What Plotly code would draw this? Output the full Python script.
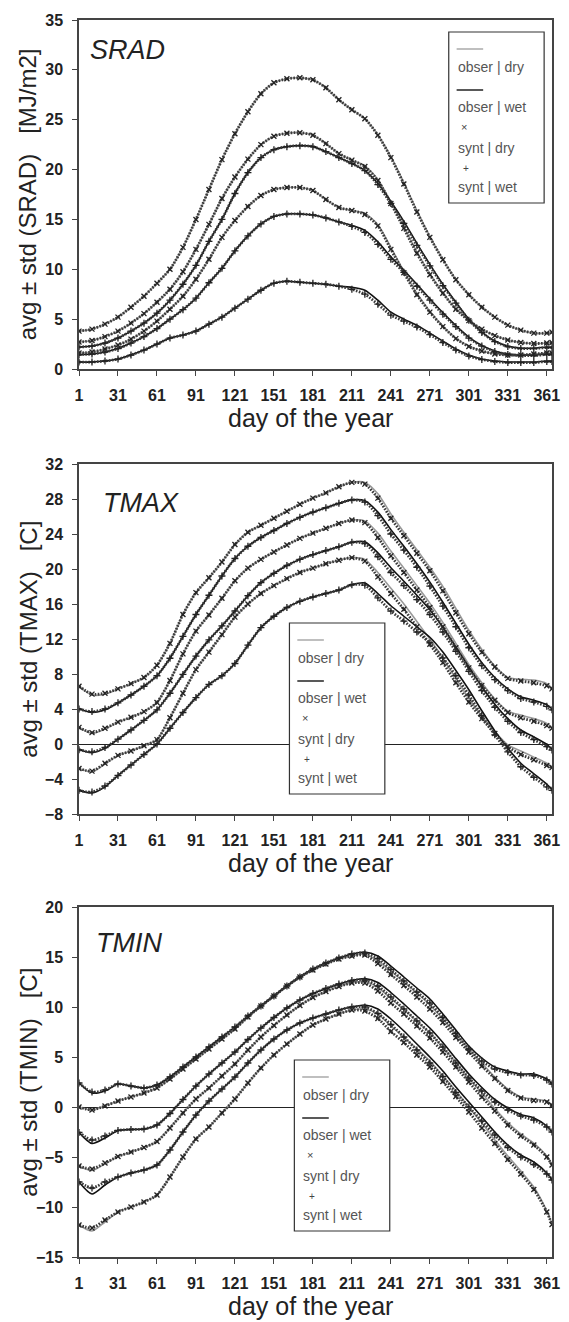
import plotly.graph_objects as go
import numpy as np

# ---------------- data (every 10 days) ----------------
days = [1, 11, 21, 31, 41, 51, 61, 71, 81, 91, 101, 111, 121, 131, 141, 151, 161, 171, 181,
        191, 201, 211, 221, 231, 241, 251, 261, 271, 281, 291, 301, 311, 321, 331, 341, 351, 361, 365]
x_ticks = [1, 31, 61, 91, 121, 151, 181, 211, 241, 271, 301, 331, 361]

# SRAD [MJ/m2]
srad_dry_avg_obs = [2.7, 2.85, 3.25, 3.8, 4.6, 5.55, 6.7, 8.0, 9.75, 12.0, 14.5, 17.1, 19.25, 21.05, 22.5, 23.35, 23.65, 23.7, 23.45, 22.6,
                    21.6, 20.95, 20.35, 19.0, 16.75, 14.25, 11.75, 9.55, 7.65, 6.05, 4.9, 4.0, 3.35, 2.9, 2.65, 2.55, 2.6, 2.65]
srad_dry_std_obs = [1.1, 1.15, 1.25, 1.4, 1.6, 1.75, 1.9, 2.0, 2.45, 3.0, 3.5, 3.9, 4.35, 4.75, 5.1, 5.35, 5.45, 5.5, 5.55, 5.6,
                    5.4, 5.05, 4.75, 4.5, 4.55, 4.45, 4.15, 3.75, 3.35, 2.95, 2.6, 2.2, 1.85, 1.5, 1.25, 1.05, 1.0, 1.05]
srad_wet_avg_obs = [1.45, 1.5, 1.7, 2.05, 2.6, 3.25, 4.05, 5.0, 5.95, 7.1, 8.65, 10.1, 11.85, 13.35, 14.55, 15.3, 15.55, 15.55, 15.45, 15.15,
                    14.75, 14.4, 13.9, 12.75, 11.25, 9.9, 8.5, 7.05, 5.65, 4.35, 3.2, 2.35, 1.8, 1.5, 1.4, 1.4, 1.5, 1.5]
srad_wet_std_obs = [0.75, 0.8, 0.9, 1.05, 1.2, 1.35, 1.55, 1.9, 2.55, 3.3, 4.15, 4.9, 5.75, 6.35, 6.65, 6.7, 6.75, 6.85, 6.85, 6.65,
                    6.45, 6.2, 6.0, 5.85, 5.55, 4.9, 4.1, 3.45, 2.85, 2.35, 1.8, 1.35, 1.0, 0.8, 0.7, 0.7, 0.7, 0.7]
srad_dry_avg_synt = [2.7, 2.85, 3.25, 3.8, 4.6, 5.55, 6.7, 8.0, 9.75, 12.0, 14.5, 17.1, 19.25, 21.05, 22.5, 23.35, 23.65, 23.7, 23.45, 22.6,
                     21.6, 20.95, 20.3, 18.9, 16.6, 14.1, 11.6, 9.45, 7.6, 6.0, 4.85, 4.0, 3.35, 2.9, 2.65, 2.55, 2.6, 2.65]
srad_dry_std_synt = [1.1, 1.15, 1.25, 1.4, 1.6, 1.75, 1.9, 2.0, 2.45, 3.0, 3.5, 3.9, 4.35, 4.75, 5.1, 5.35, 5.45, 5.5, 5.55, 5.6,
                     5.4, 5.05, 4.8, 4.55, 4.6, 4.45, 4.15, 3.75, 3.35, 2.95, 2.6, 2.2, 1.85, 1.5, 1.25, 1.05, 1.0, 1.05]
srad_wet_avg_synt = [1.45, 1.5, 1.7, 2.05, 2.6, 3.25, 4.05, 5.0, 5.95, 7.1, 8.65, 10.1, 11.85, 13.35, 14.55, 15.3, 15.55, 15.55, 15.45, 15.15,
                     14.75, 14.3, 13.7, 12.5, 11.0, 9.7, 8.3, 6.9, 5.5, 4.25, 3.1, 2.3, 1.75, 1.45, 1.35, 1.35, 1.45, 1.45]
srad_wet_std_synt = [0.75, 0.8, 0.9, 1.05, 1.2, 1.35, 1.55, 1.9, 2.55, 3.3, 4.15, 4.9, 5.75, 6.35, 6.65, 6.7, 6.75, 6.85, 6.85, 6.65,
                     6.45, 6.3, 6.2, 6.0, 5.6, 4.9, 4.1, 3.45, 2.85, 2.35, 1.8, 1.35, 1.0, 0.8, 0.7, 0.7, 0.7, 0.7]

# TMAX [C]
tmax_dry_avg_obs = [1.9, 1.2, 1.7, 2.5, 3.05, 3.7, 4.75, 7.25, 10.3, 12.9, 14.75, 16.65, 18.65, 20.1, 21.1, 21.95, 22.75, 23.5, 24.1, 24.65,
                    25.2, 25.6, 25.5, 24.1, 22.05, 20.1, 18.1, 16.1, 13.9, 11.5, 9.1, 7.0, 5.15, 3.75, 3.3, 2.9, 2.35, 1.9]
tmax_dry_std_obs = [4.7, 4.4, 4.0, 3.8, 3.85, 3.9, 4.25, 4.25, 4.5, 4.4, 4.25, 4.15, 4.15, 4.1, 3.9, 3.85, 3.85, 3.9, 4.0, 4.05,
                    4.2, 4.3, 4.4, 4.5, 4.25, 4.1, 4.1, 4.1, 4.1, 4.0, 3.9, 3.8, 3.75, 3.85, 4.1, 4.4, 4.55, 4.5]
tmax_wet_avg_obs = [-0.65, -1.0, -0.5, 0.55, 1.6, 2.7, 3.9, 5.8, 7.95, 10.05, 11.9, 13.5, 15.2, 16.95, 18.45, 19.5, 20.4, 21.1, 21.65, 22.1,
                    22.55, 23.05, 23.1, 21.85, 20.15, 18.6, 17.0, 15.35, 13.35, 11.1, 8.8, 6.55, 4.55, 2.9, 1.6, 0.8, -0.05, -0.6]
tmax_wet_std_obs = [4.65, 4.6, 4.4, 4.15, 4.0, 3.9, 3.9, 4.0, 4.35, 4.75, 5.1, 5.7, 6.0, 5.65, 5.15, 4.9, 4.8, 4.8, 4.85, 4.9,
                    4.95, 4.85, 4.7, 4.65, 4.35, 4.0, 3.6, 3.15, 2.85, 2.7, 2.6, 2.75, 3.05, 3.4, 3.8, 4.2, 4.55, 4.6]
tmax_dry_avg_synt = [1.9, 1.3, 1.8, 2.5, 3.05, 3.7, 4.75, 7.25, 10.3, 12.9, 14.75, 16.65, 18.65, 20.1, 21.1, 21.95, 22.75, 23.5, 24.1, 24.65,
                     25.2, 25.6, 25.3, 23.6, 21.5, 19.6, 17.6, 15.6, 13.4, 11.0, 8.7, 6.7, 5.0, 3.6, 3.0, 2.6, 2.1, 1.8]
tmax_dry_std_synt = [4.7, 4.4, 4.0, 3.8, 3.85, 3.9, 4.25, 4.25, 4.5, 4.4, 4.25, 4.15, 4.15, 4.1, 3.9, 3.85, 3.85, 3.9, 4.0, 4.05,
                     4.2, 4.3, 4.4, 4.5, 4.3, 4.2, 4.2, 4.2, 4.1, 4.0, 3.9, 3.8, 3.8, 3.9, 4.2, 4.4, 4.55, 4.5]
tmax_wet_avg_synt = [-0.65, -0.9, -0.4, 0.55, 1.6, 2.7, 3.9, 5.8, 7.95, 10.05, 11.9, 13.5, 15.2, 16.95, 18.45, 19.5, 20.4, 21.1, 21.65, 22.1,
                     22.55, 23.05, 22.9, 21.4, 19.6, 18.1, 16.5, 14.8, 12.8, 10.6, 8.3, 6.1, 4.2, 2.6, 1.3, 0.5, -0.3, -0.7]
tmax_wet_std_synt = [4.65, 4.6, 4.4, 4.15, 4.0, 3.9, 3.9, 4.0, 4.35, 4.75, 5.1, 5.7, 6.0, 5.65, 5.15, 4.9, 4.8, 4.8, 4.85, 4.9,
                     4.95, 4.85, 4.75, 4.7, 4.4, 4.05, 3.7, 3.25, 2.95, 2.8, 2.7, 2.85, 3.15, 3.5, 3.9, 4.3, 4.6, 4.6]

# TMIN [C]
tmin_wet_avg_obs = [-2.55, -3.65, -3.1, -2.35, -2.25, -2.2, -1.8, -0.65, 0.75, 2.1, 3.3, 4.4, 5.5, 6.75, 7.9, 8.95, 9.9, 10.7, 11.35, 11.85,
                    12.3, 12.65, 12.85, 12.45, 11.45, 10.3, 9.1, 7.9, 6.45, 4.85, 3.3, 1.95, 0.75, -0.1, -0.75, -1.1, -1.9, -2.5]
tmin_wet_std_obs = [4.95, 5.05, 4.7, 4.65, 4.35, 4.1, 4.0, 3.65, 3.25, 2.9, 2.7, 2.6, 2.5, 2.35, 2.2, 2.15, 2.2, 2.3, 2.45, 2.55,
                    2.6, 2.65, 2.65, 2.65, 2.65, 2.7, 2.8, 2.9, 2.85, 2.85, 2.8, 2.95, 3.25, 3.7, 4.05, 4.4, 4.7, 4.8]
tmin_dry_avg_obs = [-5.9, -6.35, -5.7, -4.95, -4.5, -4.05, -3.45, -2.1, -0.6, 0.8, 1.9, 3.1, 4.3, 5.7, 7.0, 8.15, 9.2, 10.15, 10.95, 11.55,
                    12.05, 12.4, 12.55, 11.95, 10.85, 9.75, 8.6, 7.4, 5.95, 4.45, 2.9, 1.4, -0.15, -1.55, -2.7, -3.6, -4.9, -5.75]
tmin_dry_std_obs = [5.9, 6.05, 5.8, 5.55, 5.5, 5.45, 5.35, 4.9, 4.4, 4.0, 3.9, 3.7, 3.5, 3.3, 3.1, 2.95, 2.9, 2.85, 2.75, 2.75,
                    2.75, 2.7, 2.75, 2.65, 2.75, 2.75, 2.8, 2.8, 2.85, 2.85, 2.9, 3.0, 3.15, 3.35, 3.7, 4.4, 5.5, 5.95]
tmin_wet_avg_synt = [-2.55, -3.3, -2.9, -2.35, -2.25, -2.2, -1.8, -0.65, 0.75, 2.1, 3.3, 4.4, 5.5, 6.75, 7.9, 8.95, 9.9, 10.7, 11.35, 11.85,
                     12.3, 12.65, 12.7, 12.1, 11.0, 9.8, 8.6, 7.4, 6.0, 4.4, 2.9, 1.6, 0.5, -0.3, -0.9, -1.3, -2.0, -2.5]
tmin_wet_std_synt = [4.95, 4.8, 4.6, 4.65, 4.35, 4.1, 4.0, 3.65, 3.25, 2.9, 2.7, 2.6, 2.5, 2.35, 2.2, 2.15, 2.2, 2.3, 2.45, 2.55,
                     2.6, 2.65, 2.7, 2.75, 2.75, 2.8, 2.9, 3.0, 2.95, 2.95, 2.9, 3.0, 3.3, 3.75, 4.1, 4.45, 4.7, 4.8]
tmin_dry_avg_synt = [-5.9, -6.2, -5.6, -4.95, -4.5, -4.05, -3.45, -2.1, -0.6, 0.8, 1.9, 3.1, 4.3, 5.7, 7.0, 8.15, 9.2, 10.15, 10.95, 11.55,
                     12.05, 12.4, 12.4, 11.6, 10.4, 9.3, 8.1, 6.9, 5.5, 4.0, 2.5, 1.0, -0.4, -1.8, -2.9, -3.8, -5.0, -5.8]
tmin_dry_std_synt = [5.9, 5.9, 5.7, 5.55, 5.5, 5.45, 5.35, 4.9, 4.4, 4.0, 3.9, 3.7, 3.5, 3.3, 3.1, 2.95, 2.9, 2.85, 2.75, 2.75,
                     2.75, 2.7, 2.8, 2.75, 2.85, 2.85, 2.9, 2.9, 2.95, 2.95, 3.0, 3.1, 3.25, 3.45, 3.8, 4.45, 5.5, 5.95]

panels = [
    dict(name="SRAD", unit="[MJ/m2]", yr=[0, 35], dt=5, zero=False,
         dry_obs=(srad_dry_avg_obs, srad_dry_std_obs), wet_obs=(srad_wet_avg_obs, srad_wet_std_obs),
         dry_syn=(srad_dry_avg_synt, srad_dry_std_synt), wet_syn=(srad_wet_avg_synt, srad_wet_std_synt)),
    dict(name="TMAX", unit="[C]", yr=[-8, 32], dt=4, zero=True,
         dry_obs=(tmax_dry_avg_obs, tmax_dry_std_obs), wet_obs=(tmax_wet_avg_obs, tmax_wet_std_obs),
         dry_syn=(tmax_dry_avg_synt, tmax_dry_std_synt), wet_syn=(tmax_wet_avg_synt, tmax_wet_std_synt)),
    dict(name="TMIN", unit="[C]", yr=[-15, 20], dt=5, zero=True,
         dry_obs=(tmin_dry_avg_obs, tmin_dry_std_obs), wet_obs=(tmin_wet_avg_obs, tmin_wet_std_obs),
         dry_syn=(tmin_dry_avg_synt, tmin_dry_std_synt), wet_syn=(tmin_wet_avg_synt, tmin_wet_std_synt)),
]

# ---------------- geometry (pixels) ----------------
W, H = 569, 1322
L, R, T, B = 79, 9, 20, 65
PW, PH = W - L - R, H - T - B
panel_px = [(20, 369), (464, 814), (907, 1257)]          # top, bottom of each plot area
legend_px = [(455, 32), (293, 623), (298, 1060)]          # top-left of each legend box
title_px = [(88, 50), (101, 503), (94, 943)]


def px(x):
    return (x - L) / PW


def py(y):
    return (H - B - y) / PH


fig = go.Figure()
shapes, annotations = [], []
FONT = "Liberation Sans, Arial, sans-serif"

for i, p in enumerate(panels):
    xa = "x" if i == 0 else f"x{i+1}"
    ya = "y" if i == 0 else f"y{i+1}"
    for key, color in (("dry_obs", "#9a9a9a"), ("wet_obs", "#111111")):
        avg, std = np.array(p[key][0]), np.array(p[key][1])
        for yv in (avg - std, avg, avg + std):
            fig.add_trace(go.Scatter(x=days, y=yv, mode="lines", xaxis=xa, yaxis=ya, showlegend=False,
                                     line=dict(color=color, width=1.6, shape="spline", smoothing=0.7),
                                     hoverinfo="skip"))
    for key, sym in (("dry_syn", "x-thin"), ("wet_syn", "cross-thin")):
        avg, std = np.array(p[key][0]), np.array(p[key][1])
        for yv in (avg - std, avg, avg + std):
            fig.add_trace(go.Scatter(x=days, y=yv, mode="lines+markers", xaxis=xa, yaxis=ya, showlegend=False,
                                     line=dict(color="#3a3a3a", width=2.8, dash="1.6px,1.4px",
                                               shape="spline", smoothing=0.7),
                                     marker=dict(symbol=sym, size=5, color="#222",
                                                 line=dict(width=1.3, color="#222")),
                                     hoverinfo="skip"))

    top, bot = panel_px[i]
    axis_common = dict(showline=True, mirror=True, linecolor="#444", linewidth=1.5, ticks="outside",
                       ticklen=5, tickwidth=1.2, tickcolor="#444", showgrid=False,
                       tickfont=dict(family=FONT, size=16, color="#222", weight="bold"))
    fig.update_layout(**{
        ("xaxis" if i == 0 else f"xaxis{i+1}"): dict(
            domain=[0, 1], anchor=ya, range=[1, 365], tickmode="array", tickvals=x_ticks,
            ticklabelstandoff=6, zeroline=False, **axis_common),
        ("yaxis" if i == 0 else f"yaxis{i+1}"): dict(
            domain=[py(bot), py(top)], anchor=xa, range=p["yr"], dtick=p["dt"], tick0=0,
            ticklabelstandoff=6, zeroline=p["zero"], zerolinecolor="#222", zerolinewidth=1.2,
            **axis_common),
    })

    # panel name
    tx, ty = title_px[i]
    annotations.append(dict(text=f"<i>{p['name']}</i>", x=px(tx), y=py(ty), xref="paper", yref="paper",
                            xanchor="left", yanchor="middle", showarrow=False,
                            font=dict(family=FONT, size=27, color="#222")))
    # y title
    annotations.append(dict(text=f"avg ± std ({p['name']})   {p['unit']}", x=px(27), y=py((top + bot) / 2),
                            xref="paper", yref="paper", xanchor="center", yanchor="middle", showarrow=False,
                            textangle=-90, font=dict(family=FONT, size=24, color="#222")))
    # x title
    annotations.append(dict(text="day of the year", x=px(314), y=py(bot + 49),
                            xref="paper", yref="paper", xanchor="center", yanchor="middle", showarrow=False,
                            font=dict(family=FONT, size=25, color="#222")))

    # custom legend box
    lx, ly = legend_px[i]
    shapes.append(dict(type="rect", xref="paper", yref="paper", x0=px(lx), x1=px(lx + 97),
                       y0=py(ly + 171), y1=py(ly), line=dict(color="#333", width=1.2),
                       fillcolor="white", layer="above"))
    shapes.append(dict(type="line", xref="paper", yref="paper", x0=px(lx + 8), x1=px(lx + 35),
                       y0=py(ly + 17), y1=py(ly + 17), line=dict(color="#aaa", width=1.5), layer="above"))
    shapes.append(dict(type="line", xref="paper", yref="paper", x0=px(lx + 8), x1=px(lx + 35),
                       y0=py(ly + 58), y1=py(ly + 58), line=dict(color="#222", width=1.5), layer="above"))
    for txt, dy in (("obser | dry", 35), ("obser | wet", 75), ("synt | dry", 116), ("synt | wet", 155)):
        annotations.append(dict(text=txt, x=px(lx + 7), y=py(ly + dy), xref="paper", yref="paper",
                                xanchor="left", yanchor="middle", showarrow=False,
                                font=dict(family=FONT, size=14, color="#555")))
    annotations.append(dict(text="×", x=px(lx + 16), y=py(ly + 95), xref="paper", yref="paper",
                            xanchor="center", yanchor="middle", showarrow=False,
                            font=dict(family=FONT, size=11, color="#444")))
    annotations.append(dict(text="+", x=px(lx + 18), y=py(ly + 136), xref="paper", yref="paper",
                            xanchor="center", yanchor="middle", showarrow=False,
                            font=dict(family=FONT, size=10, color="#444")))

fig.update_layout(width=W, height=H, margin=dict(l=L, r=R, t=T, b=B), paper_bgcolor="white",
                  plot_bgcolor="white", showlegend=False, shapes=shapes, annotations=annotations)

fig.write_html("out.html")
